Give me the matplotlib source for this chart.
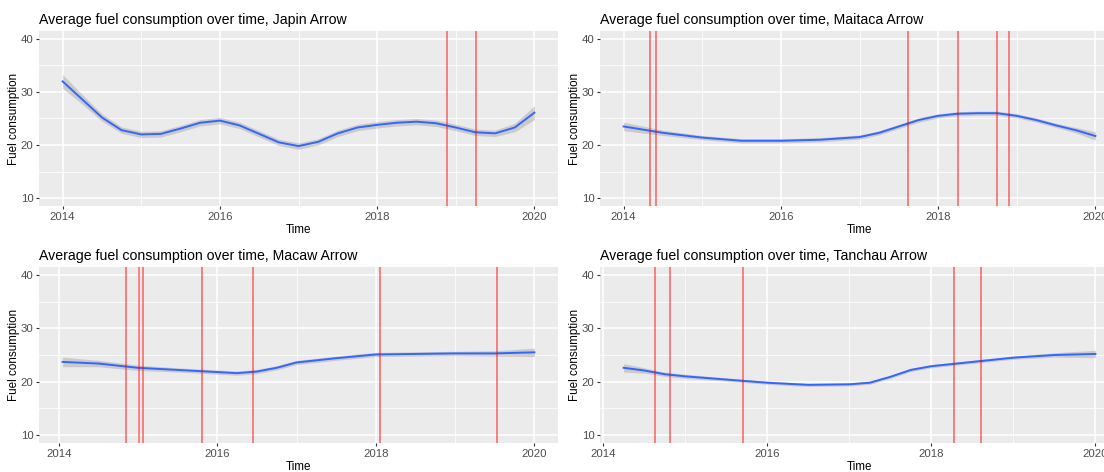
import matplotlib
matplotlib.use("Agg")
import matplotlib.pyplot as plt
from matplotlib.ticker import MultipleLocator

plt.rcParams['font.family'] = ['Liberation Sans', 'DejaVu Sans']

# smoothed average consumption per vessel (year, value, band half-width)
japin_t = [2014, 2014.25, 2014.5, 2014.75, 2015, 2015.25, 2015.5, 2015.75, 2016,
           2016.25, 2016.5, 2016.75, 2017, 2017.25, 2017.5, 2017.75, 2018, 2018.25,
           2018.5, 2018.75, 2019, 2019.25, 2019.5, 2019.75, 2020]
japin_y = [32.0, 28.6, 25.2, 22.8, 22.0, 22.1, 23.1, 24.2, 24.6, 23.7, 22.1, 20.5,
           19.8, 20.6, 22.2, 23.3, 23.8, 24.2, 24.4, 24.1, 23.3, 22.4, 22.2, 23.3, 26.1]
japin_se = [1.3, 0.9, 0.7, 0.6, 0.6, 0.6, 0.6, 0.6, 0.6, 0.6, 0.6, 0.6, 0.6, 0.6,
            0.6, 0.6, 0.6, 0.6, 0.6, 0.6, 0.6, 0.6, 0.6, 0.8, 1.3]
japin_events = [2018.89, 2019.26]

maitaca_t = [2014, 2014.5, 2015, 2015.5, 2016, 2016.5, 2017, 2017.25, 2017.5, 2017.75,
             2018, 2018.25, 2018.5, 2018.75, 2019, 2019.25, 2019.5, 2019.75, 2020]
maitaca_y = [23.5, 22.3, 21.4, 20.8, 20.8, 21.0, 21.5, 22.3, 23.5, 24.7, 25.5, 25.9,
             26.0, 26.0, 25.5, 24.7, 23.7, 22.8, 21.7]
maitaca_se = [0.8, 0.5, 0.4, 0.4, 0.4, 0.4, 0.4, 0.4, 0.4, 0.4, 0.4, 0.4, 0.4, 0.4,
              0.4, 0.4, 0.4, 0.5, 0.8]
maitaca_events = [2014.34, 2014.41, 2017.62, 2018.25, 2018.75, 2018.90]

macaw_t = [2014.05, 2014.5, 2015, 2015.5, 2016, 2016.25, 2016.5, 2016.75, 2017, 2017.5,
           2018, 2018.5, 2019, 2019.5, 2020]
macaw_y = [23.7, 23.4, 22.6, 22.2, 21.8, 21.6, 21.9, 22.6, 23.6, 24.4, 25.1, 25.2,
           25.3, 25.3, 25.5]
macaw_se = [0.9, 0.6, 0.5, 0.4, 0.4, 0.4, 0.4, 0.4, 0.4, 0.4, 0.4, 0.4, 0.4, 0.5, 0.8]
macaw_events = [2014.85, 2015.01, 2015.06, 2015.81, 2016.45, 2018.05, 2019.53]

tanchau_t = [2014.25, 2014.5, 2014.75, 2015, 2015.5, 2016, 2016.5, 2017, 2017.25, 2017.5,
             2017.75, 2018, 2018.5, 2019, 2019.5, 2020]
tanchau_y = [22.6, 22.1, 21.4, 21.0, 20.4, 19.8, 19.4, 19.5, 19.8, 20.9, 22.2, 22.9,
             23.7, 24.5, 25.0, 25.2]
tanchau_se = [0.8, 0.5, 0.4, 0.4, 0.3, 0.3, 0.3, 0.3, 0.3, 0.3, 0.3, 0.3, 0.3, 0.3,
              0.4, 0.7]
tanchau_events = [2014.63, 2014.81, 2015.70, 2018.28, 2018.60]


def plot_vessel(ax, name, t, y, se, events):
    ax.set_facecolor('#EBEBEB')
    for s in ax.spines.values():
        s.set_visible(False)
    ax.xaxis.set_major_locator(MultipleLocator(2))
    ax.xaxis.set_minor_locator(MultipleLocator(1))
    ax.yaxis.set_major_locator(MultipleLocator(10))
    ax.yaxis.set_minor_locator(MultipleLocator(5))
    ax.grid(which='major', color='white', lw=1.1)
    ax.grid(which='minor', color='white', lw=0.55)
    ax.set_axisbelow(True)
    ax.tick_params(which='major', length=2.5, width=0.8, color='#333333',
                   labelsize=8.2, labelcolor='#4D4D4D', pad=1.5)
    ax.tick_params(which='minor', length=0)

    lo = [v - e for v, e in zip(y, se)]
    hi = [v + e for v, e in zip(y, se)]
    ax.fill_between(t, lo, hi, color='#999999', alpha=0.4, lw=0, zorder=2)
    ax.plot(t, y, color='#3366FF', lw=1.4, zorder=3, solid_joinstyle='round')
    for e in events:
        ax.axvline(e, color='red', alpha=0.5, lw=1.3, zorder=4)

    span = t[-1] - t[0]
    ax.set_xlim(t[0] - 0.05 * span, t[-1] + 0.05 * span)
    ax.set_ylim(8.5, 41.5)
    ax.set_title('Average fuel consumption over time, ' + name, loc='left',
                 fontsize=10.2, color='black', pad=5)
    ax.set_xlabel('Time', fontsize=8.4, labelpad=2)
    ax.set_ylabel('Fuel consumption', fontsize=8.4, labelpad=0.5)


fig = plt.figure(figsize=(11.04, 4.72), dpi=100)
W, H = 1104, 472
pw = 519
ax1 = fig.add_axes([39 / W, (H - 206) / H, pw / W, 175 / H])
ax2 = fig.add_axes([600 / W, (H - 206) / H, pw / W, 175 / H])
ax3 = fig.add_axes([39 / W, (H - 443) / H, pw / W, 176 / H])
ax4 = fig.add_axes([600 / W, (H - 443) / H, pw / W, 176 / H])

plot_vessel(ax1, 'Japin Arrow', japin_t, japin_y, japin_se, japin_events)
plot_vessel(ax2, 'Maitaca Arrow', maitaca_t, maitaca_y, maitaca_se, maitaca_events)
plot_vessel(ax3, 'Macaw Arrow', macaw_t, macaw_y, macaw_se, macaw_events)
plot_vessel(ax4, 'Tanchau Arrow', tanchau_t, tanchau_y, tanchau_se, tanchau_events)

fig.savefig('out.png', dpi=100)
